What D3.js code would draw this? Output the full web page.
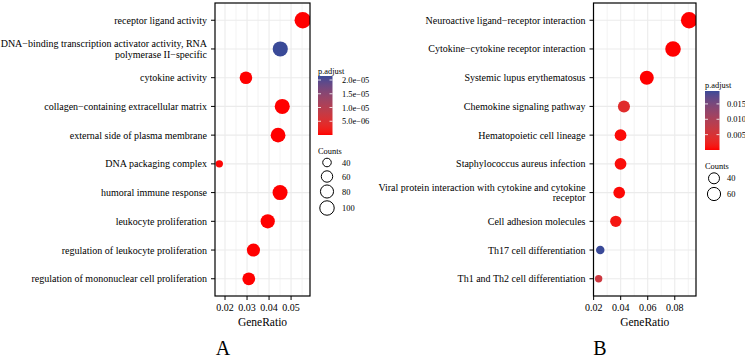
<!DOCTYPE html>
<html><head><meta charset="utf-8">
<script src="https://cdn.jsdelivr.net/npm/d3@7"></script>
<style>
html,body{margin:0;padding:0;background:#fff;}
text{font-family:"Liberation Serif","Times New Roman",serif;fill:#000;}
</style></head>
<body><svg id="c" width="745" height="361"></svg>
<script>
// ---------- Panel A (GO) ----------
const goTerms = [
  "receptor ligand activity",
  "DNA\u2212binding transcription activator activity, RNA\npolymerase II\u2212specific",
  "cytokine activity",
  "collagen\u2212containing extracellular matrix",
  "external side of plasma membrane",
  "DNA packaging complex",
  "humoral immune response",
  "leukocyte proliferation",
  "regulation of leukocyte proliferation",
  "regulation of mononuclear cell proliferation"
];
const goRatio = [0.0553, 0.0451, 0.0295, 0.0460, 0.0441, 0.0174, 0.0450, 0.0394, 0.0329, 0.0308];
const goCount = [120, 98, 64, 97, 92, 36, 96, 84, 70, 66];
const goPadj  = [1e-12, 2.146e-05, 4.0e-08, 2.0e-09, 6.0e-09, 3.0e-07, 1.0e-10, 2.0e-09, 1.0e-08, 3.0e-08];
const goXTicks = [0.02, 0.03, 0.04, 0.05];
const goPadjBreaks = [5e-06, 1e-05, 1.5e-05, 2e-05];
const goPadjLabels = ["5.0e\u221206", "1.0e\u221205", "1.5e\u221205", "2.0e\u221205"];
const goCountBreaks = [40, 60, 80, 100];

// ---------- Panel B (KEGG) ----------
const keggTerms = [
  "Neuroactive ligand\u2212receptor interaction",
  "Cytokine\u2212cytokine receptor interaction",
  "Systemic lupus erythematosus",
  "Chemokine signaling pathway",
  "Hematopoietic cell lineage",
  "Staphylococcus aureus infection",
  "Viral protein interaction with cytokine and cytokine\nreceptor",
  "Cell adhesion molecules",
  "Th17 cell differentiation",
  "Th1 and Th2 cell differentiation"
];
const keggRatio = [0.0906, 0.0787, 0.0593, 0.0424, 0.0399, 0.0399, 0.0389, 0.0364, 0.0249, 0.0237];
const keggCount = [91, 79, 60, 42, 40, 40, 39, 37, 25, 24];
const keggPadj  = [1e-12, 1e-09, 2e-06, 0.0038, 0.0004, 0.0006, 0.0003, 0.0012, 0.0192, 0.0062];
const keggXTicks = [0.02, 0.04, 0.06, 0.08];
const keggPadjBreaks = [0.005, 0.010, 0.015];
const keggPadjLabels = ["0.005", "0.010", "0.015"];
const keggCountBreaks = [40, 60];

const LOW = "#ff0000", HIGH = "#3a4a98";
const svg = d3.select("#c");

function panel(cfg){
  const g = svg.append("g");
  const {L,R,T,B} = cfg.plot;
  const x = d3.scaleLinear().domain(cfg.xDomain).range([L,R]);
  const y = d3.scalePoint().domain(cfg.terms).range([T,B]).padding(0.6);
  const cExt = d3.extent(cfg.count);
  const norm = d3.scaleLinear().domain(cExt).range([0,1]).clamp(true);
  const rs = d3.scaleLinear().domain([0,1]).range([3.7, 8.2]);
  const r = c => rs(Math.sqrt(norm(c)));
  const col = d3.scaleLinear().domain(d3.extent(cfg.padj)).range([LOW,HIGH]).interpolate(d3.interpolateLab);

  // grid
  const step = cfg.xTicks[1]-cfg.xTicks[0];
  const minor = [];
  for(let v=cfg.xTicks[0]-step/2; v<cfg.xDomain[1]; v+=step){ if(v>cfg.xDomain[0]) minor.push(v); }
  g.selectAll(".mn").data(minor).join("line")
    .attr("x1",d=>x(d)).attr("x2",d=>x(d)).attr("y1",T).attr("y2",B)
    .attr("stroke","#ebebeb").attr("stroke-width",0.6);
  g.selectAll(".mj").data(cfg.xTicks).join("line")
    .attr("x1",d=>x(d)).attr("x2",d=>x(d)).attr("y1",T).attr("y2",B)
    .attr("stroke","#ebebeb").attr("stroke-width",1.1);
  g.selectAll(".hj").data(cfg.terms).join("line")
    .attr("x1",L).attr("x2",R).attr("y1",d=>y(d)).attr("y2",d=>y(d))
    .attr("stroke","#ebebeb").attr("stroke-width",1.1);

  // points
  const cid = "clip"+cfg.id;
  svg.append("clipPath").attr("id",cid).append("rect")
    .attr("x",L).attr("y",T).attr("width",R-L).attr("height",B-T);
  const pts = cfg.terms.map((t,i)=>({t, gr:cfg.ratio[i], c:cfg.count[i], p:cfg.padj[i]}));
  g.append("g").attr("clip-path",`url(#${cid})`)
    .selectAll("circle").data(pts).join("circle")
    .attr("cx",d=>x(d.gr)).attr("cy",d=>y(d.t)).attr("r",d=>r(d.c))
    .attr("fill",d=>col(d.p));

  // border
  g.append("rect").attr("x",L).attr("y",T).attr("width",R-L).attr("height",B-T)
    .attr("fill","none").attr("stroke","#000").attr("stroke-width",1.2);

  // y axis
  const ya = g.append("g");
  pts.forEach(d=>{
    ya.append("line").attr("x1",L-4).attr("x2",L).attr("y1",y(d.t)).attr("y2",y(d.t))
      .attr("stroke","#000").attr("stroke-width",1);
    const lines = d.t.split("\n");
    const lh = 10.7;
    const t = ya.append("text").attr("text-anchor","end").attr("font-size",10)
      .attr("fill","#111");
    lines.forEach((ln,k)=>{
      t.append("tspan").attr("x",L-8)
        .attr("y", y(d.t) + (k-(lines.length-1)/2)*lh + 3.5).text(ln);
    });
  });
  // x axis
  const xa = g.append("g");
  cfg.xTicks.forEach(v=>{
    xa.append("line").attr("x1",x(v)).attr("x2",x(v)).attr("y1",B).attr("y2",B+4)
      .attr("stroke","#000").attr("stroke-width",1);
    xa.append("text").attr("x",x(v)).attr("y",B+15).attr("text-anchor","middle")
      .attr("font-size",10).attr("fill","#222").text(d3.format(".2f")(v));
  });
  g.append("text").attr("x",(L+R)/2).attr("y",B+30).attr("text-anchor","middle")
    .attr("font-size",11.5).text("GeneRatio");
  g.append("text").attr("x",cfg.letterX).attr("y",355).attr("text-anchor","middle")
    .attr("font-size",20).text(cfg.letter);

  // colour legend
  const lg = cfg.leg;
  g.append("text").attr("x",lg.x).attr("y",lg.titleY).attr("font-size",8.4).text("p.adjust");
  const gid = "grad"+cfg.id;
  const ext = d3.extent(cfg.padj);
  const grad = svg.append("defs").append("linearGradient").attr("id",gid)
    .attr("x1",0).attr("y1",1).attr("x2",0).attr("y2",0);
  d3.range(0,1.0001,0.05).forEach(f=>{
    grad.append("stop").attr("offset",f).attr("stop-color",col(ext[0]+f*(ext[1]-ext[0])));
  });
  const bw = 14.5;
  g.append("rect").attr("x",lg.x).attr("y",lg.barT).attr("width",bw).attr("height",lg.barB-lg.barT)
    .attr("fill",`url(#${gid})`);
  const by = d3.scaleLinear().domain(ext).range([lg.barB,lg.barT]);
  cfg.padjBreaks.forEach((v,i)=>{
    const yy = by(v);
    g.append("line").attr("x1",lg.x).attr("x2",lg.x+3).attr("y1",yy).attr("y2",yy)
      .attr("stroke","#fff").attr("stroke-width",0.8);
    g.append("line").attr("x1",lg.x+bw-3).attr("x2",lg.x+bw).attr("y1",yy).attr("y2",yy)
      .attr("stroke","#fff").attr("stroke-width",0.8);
    g.append("text").attr("x",lg.labX).attr("y",yy+3).attr("font-size",8.4)
      .attr("fill","#222").text(cfg.padjLabels[i]);
  });
  // size legend
  g.append("text").attr("x",lg.x).attr("y",lg.countsY).attr("font-size",8.4).text("Counts");
  cfg.countBreaks.forEach((v,i)=>{
    const yy = lg.circY[i];
    g.append("circle").attr("cx",lg.circX).attr("cy",yy).attr("r",r(v)-0.4)
      .attr("fill","none").attr("stroke","#000").attr("stroke-width",1);
    g.append("text").attr("x",lg.labX).attr("y",yy+3).attr("font-size",8.4)
      .attr("fill","#222").text(v);
  });
}

panel({id:"A", terms:goTerms, ratio:goRatio, count:goCount, padj:goPadj,
  xDomain:[0.01545,0.0586], xTicks:goXTicks, plot:{L:215,R:310,T:3,B:296},
  padjBreaks:goPadjBreaks, padjLabels:goPadjLabels, countBreaks:goCountBreaks,
  letter:"A", letterX:223,
  leg:{x:318, titleY:73.5, barT:76, barB:135, labX:342, countsY:154,
       circX:327, circY:[162.5,176.5,191.5,208]}});

panel({id:"B", terms:keggTerms, ratio:keggRatio, count:keggCount, padj:keggPadj,
  xDomain:[0.0199,0.0957], xTicks:keggXTicks, plot:{L:593.5,R:696,T:3,B:296},
  padjBreaks:keggPadjBreaks, padjLabels:keggPadjLabels, countBreaks:keggCountBreaks,
  letter:"B", letterX:600,
  leg:{x:705, titleY:88, barT:91, barB:150, labX:727, countsY:169,
       circX:714, circY:[178.3,194]}});
</script></body></html>
